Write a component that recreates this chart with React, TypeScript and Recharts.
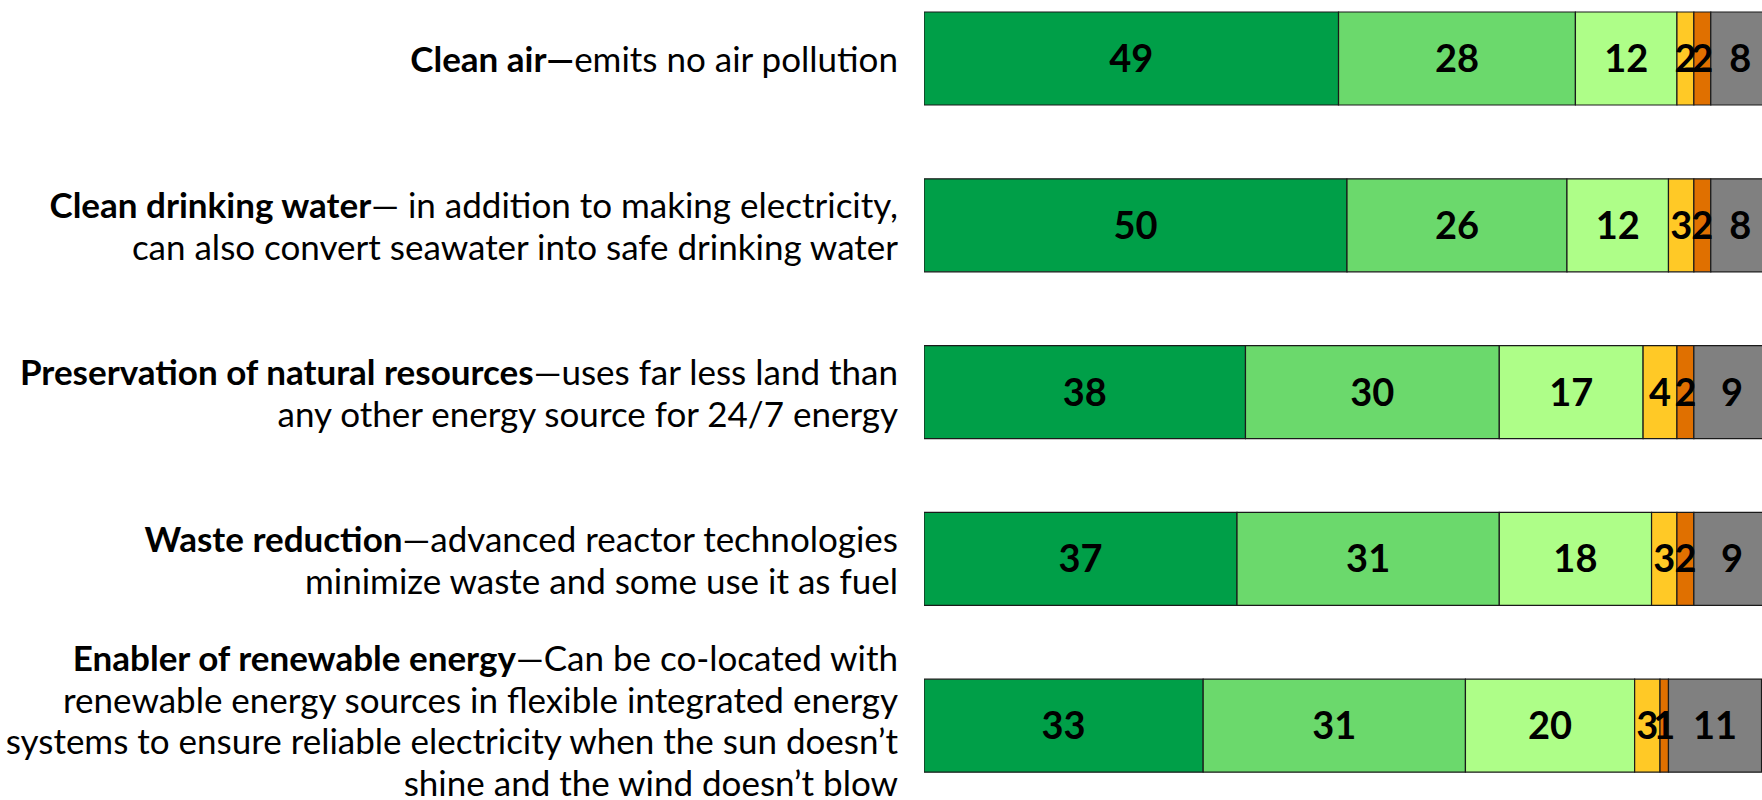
import React from 'react';
import { BarChart, Bar, XAxis, YAxis, LabelList } from 'recharts';

const headBold = [
  'Clean air—',
  'Clean drinking water',
  'Preservation of natural resources',
  'Waste reduction',
  'Enabler of renewable energy',
];
const headRest = [
  'emits no air pollution',
  '— in addition to making electricity,',
  '—uses far less land than',
  '—advanced reactor technologies',
  '—Can be co-located with',
];
const moreLines = [
  [],
  ['can also convert seawater into safe drinking water'],
  ['any other energy source for 24/7 energy'],
  ['minimize waste and some use it as fuel'],
  [
    'renewable energy sources in flexible integrated energy',
    'systems to ensure reliable electricity when the sun doesn’t',
    'shine and the wind doesn’t blow',
  ],
];

const veryAppealing = [49, 50, 38, 37, 33];
const somewhatAppealing = [28, 26, 30, 31, 31];
const slightlyAppealing = [12, 12, 17, 18, 20];
const notVeryAppealing = [2, 3, 4, 3, 3];
const notAtAllAppealing = [2, 2, 2, 2, 1];
const notSure = [8, 8, 9, 9, 11];

const SERIES = [
  { key: 'veryAppealing', color: '#009F48' },
  { key: 'somewhatAppealing', color: '#6BD96C' },
  { key: 'slightlyAppealing', color: '#AEFE88' },
  { key: 'notVeryAppealing', color: '#FFC926' },
  { key: 'notAtAllAppealing', color: '#E07000' },
  { key: 'notSure', color: '#808080' },
];

const data = headBold.map((name, i) => ({
  name,
  veryAppealing: veryAppealing[i],
  somewhatAppealing: somewhatAppealing[i],
  slightlyAppealing: slightlyAppealing[i],
  notVeryAppealing: notVeryAppealing[i],
  notAtAllAppealing: notAtAllAppealing[i],
  notSure: notSure[i],
}));

const FONT = 'Lato, "Open Sans", sans-serif';
const LINE_H = 41.5;

const LabelTick = (props: any) => {
  const { x, y, payload } = props;
  const i = payload.index;
  const extra = moreLines[i];
  const total = 1 + extra.length;
  // long labels sit a little higher so the last line stays on the page
  const startY = y - ((total - 1) * LINE_H) / 2 - (total > 2 ? 6 : 0);
  const tx = x - 18;
  return (
    <text
      x={tx}
      y={startY}
      textAnchor="end"
      dominantBaseline="central"
      fontFamily={FONT}
      fontSize={35}
      fill="#000"
    >
      <tspan x={tx} y={startY}>
        <tspan fontWeight="bold">{headBold[i]}</tspan>
        <tspan>{headRest[i]}</tspan>
      </tspan>
      {extra.map((line, k) => (
        <tspan key={k} x={tx} y={startY + (k + 1) * LINE_H}>
          {line}
        </tspan>
      ))}
    </text>
  );
};

export default function App() {
  return (
    <div style={{ position: 'absolute', left: 0, top: -25, width: 1762, overflow: 'hidden' }}>
      <style>{'body{margin:0;overflow:hidden;background:#fff}'}</style>
      <BarChart
        layout="vertical"
        width={1770}
        height={834}
        data={data}
        barSize={93}
        margin={{ top: 0, right: 0, bottom: 0, left: 0 }}
      >
        <XAxis type="number" domain={[0, 100]} hide allowDataOverflow />
        <YAxis
          type="category"
          dataKey="name"
          width={924}
          axisLine={false}
          tickLine={false}
          tick={<LabelTick />}
          interval={0}
        />
        {SERIES.map((s) => (
          <Bar
            key={s.key}
            dataKey={s.key}
            stackId="a"
            fill={s.color}
            stroke="#1a1a1a"
            strokeWidth={1.2}
            isAnimationActive={false}
          >
            <LabelList
              dataKey={s.key}
              position="center"
              fill="#000"
              fontFamily={FONT}
              fontWeight="bold"
              fontSize={38}
            />
          </Bar>
        ))}
      </BarChart>
    </div>
  );
}
